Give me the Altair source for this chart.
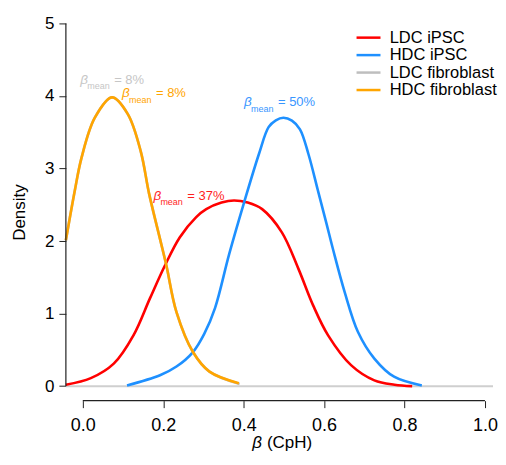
import altair as alt
import pandas as pd

# ---------------- data ----------------
series_names = ["LDC iPSC", "HDC iPSC", "LDC fibroblast", "HDC fibroblast"]
series_colors = ["#FF0000", "#1E90FF", "#BEBEBE", "#FFA500"]

ldc_ipsc_x = [-0.042, 0.020, 0.077, 0.126, 0.167, 0.204, 0.241, 0.282, 0.307,
              0.345, 0.376, 0.410, 0.446, 0.495, 0.536, 0.573, 0.610, 0.667,
              0.725, 0.775, 0.819]
ldc_ipsc_y = [0.02, 0.11, 0.31, 0.70, 1.21, 1.66, 2.05, 2.33, 2.44,
              2.53, 2.56, 2.53, 2.44, 2.12, 1.62, 1.11, 0.70, 0.29,
              0.08, 0.02, 0.00]

hdc_ipsc_x = [0.110, 0.192, 0.233, 0.274, 0.302, 0.329, 0.364, 0.401, 0.438,
              0.462, 0.480, 0.499, 0.520, 0.540, 0.561, 0.585, 0.606, 0.622,
              0.651, 0.684, 0.725, 0.774, 0.843]
hdc_ipsc_y = [0.01, 0.15, 0.27, 0.47, 0.72, 1.08, 1.82, 2.53, 3.20,
              3.57, 3.665, 3.70, 3.66, 3.54, 3.20, 2.69, 2.24, 1.89,
              1.30, 0.75, 0.38, 0.13, 0.01]

ldc_fib_x = [-0.042, -0.020, -0.003, 0.030, 0.073, 0.112, 0.144, 0.165, 0.192,
             0.208, 0.233, 0.274, 0.315, 0.390]
ldc_fib_y = [2.01, 2.69, 3.15, 3.70, 3.98, 3.75, 3.24, 2.65, 2.03,
             1.66, 1.02, 0.47, 0.20, 0.03]

hdc_fib_x = [-0.042, -0.020, -0.003, 0.030, 0.073, 0.112, 0.144, 0.165, 0.192,
             0.208, 0.233, 0.274, 0.315, 0.388]
hdc_fib_y = [2.01, 2.69, 3.15, 3.70, 3.98, 3.75, 3.24, 2.65, 2.03,
             1.66, 1.02, 0.47, 0.20, 0.04]

ann_series = ["LDC fibroblast", "HDC fibroblast", "HDC iPSC", "LDC iPSC"]
ann_x = [-0.0064, 0.0976, 0.401, 0.1756]
ann_y = [4.17, 3.98, 3.86, 2.57]
ann_value = ["= 8%", "= 8%", "= 50%", "= 37%"]
ann_color = ["#C6C6C6", "#FFA500", "#3896FF", "#FF1E1E"]

x_ticks = [0.0, 0.2, 0.4, 0.6, 0.8, 1.0]
y_ticks = [0, 1, 2, 3, 4, 5]
x_dom = [-0.042, 1.02]
y_dom = [-0.2, 5]

# ---------------- tables ----------------
rows = []
for name, xs_, ys_ in [("LDC iPSC", ldc_ipsc_x, ldc_ipsc_y),
                       ("HDC iPSC", hdc_ipsc_x, hdc_ipsc_y),
                       ("LDC fibroblast", ldc_fib_x, ldc_fib_y),
                       ("HDC fibroblast", hdc_fib_x, hdc_fib_y)]:
    for i, (a, b) in enumerate(zip(xs_, ys_)):
        rows.append({"series": name, "beta": a, "density": b, "idx": i})
df = pd.DataFrame(rows)

ann = pd.DataFrame({"series": ann_series, "ax": ann_x, "ay": ann_y,
                    "val": ann_value, "col": ann_color})

FONT = "Liberation Sans"
xs = alt.Scale(domain=x_dom, nice=False, zero=False)
ys = alt.Scale(domain=y_dom, nice=False, zero=False)

x_axis = alt.Axis(values=x_ticks, format=".1f", domain=False, grid=False,
                  tickSize=7, tickColor="#222222", labelFontSize=18,
                  labelPadding=9, title=None, labelColor="black")
y_axis = alt.Axis(values=y_ticks, domain=False, grid=False, tickSize=7,
                  tickColor="#222222", labelFontSize=17, labelPadding=5,
                  title="Density", titleFontSize=17, titlePadding=16,
                  titleFontWeight="normal", titleColor="black",
                  labelColor="black")

def X(field):
    return alt.X(field, type="quantitative", scale=xs, axis=x_axis)

def Y(field):
    return alt.Y(field, type="quantitative", scale=ys, axis=y_axis)

one = pd.DataFrame({"k": [0]})

zero_line = alt.Chart(one).mark_rule(color="#CFCFCF", strokeWidth=2).encode(
    x=alt.XDatum(x_dom[0], scale=xs, axis=x_axis),
    x2=alt.X2Datum(x_dom[1]),
    y=alt.YDatum(0, scale=ys, axis=y_axis),
)

lines = alt.Chart(df).mark_line(strokeWidth=2.6, interpolate="catmull-rom").encode(
    x=X("beta"),
    y=Y("density"),
    order="idx:Q",
    color=alt.Color(
        "series:N",
        scale=alt.Scale(domain=series_names, range=series_colors),
        sort=series_names,
        legend=alt.Legend(
            title=None, orient="none", legendX=295, legendY=6,
            symbolType="M-3,0L3,0", symbolSize=64, symbolStrokeWidth=2.5,
            labelFontSize=16.5, labelOffset=13, rowPadding=0.5, padding=0,
            labelColor="black", labelFont=FONT,
        ),
    ),
)

x_axis_line = alt.Chart(one).mark_rule(color="#222222", strokeWidth=1.2).encode(
    x=alt.XDatum(0, scale=xs, axis=x_axis),
    x2=alt.X2Datum(1),
    y=alt.YDatum(y_dom[0], scale=ys, axis=y_axis),
)
y_axis_line = alt.Chart(one).mark_rule(color="#222222", strokeWidth=1.2).encode(
    x=alt.XDatum(x_dom[0], scale=xs, axis=x_axis),
    y=alt.YDatum(0, scale=ys, axis=y_axis),
    y2=alt.Y2Datum(5),
)

x_title_beta = alt.Chart(one).mark_text(
    text="β", fontStyle="italic", fontSize=17, align="right",
    baseline="alphabetic", dx=-22, dy=47, color="black", font=FONT).encode(
    x=alt.XDatum(0.5, scale=xs, axis=x_axis),
    y=alt.YDatum(y_dom[0], scale=ys, axis=y_axis),
)
x_title_rest = alt.Chart(one).mark_text(
    text="(CpH)", fontSize=17, align="left", baseline="alphabetic",
    dx=-17, dy=47, color="black", font=FONT).encode(
    x=alt.XDatum(0.5, scale=xs, axis=x_axis),
    y=alt.YDatum(y_dom[0], scale=ys, axis=y_axis),
)

ann_base = alt.Chart(ann).encode(
    x=X("ax"), y=Y("ay"), color=alt.Color("col:N", scale=None))
ann_beta = ann_base.mark_text(text="β", fontStyle="italic", fontSize=13.5,
                              align="left", baseline="alphabetic", font=FONT)
ann_mean = ann_base.mark_text(text="mean", fontSize=9, align="left",
                              baseline="alphabetic", dx=7, dy=5.5, font=FONT)
ann_val = ann_base.mark_text(fontSize=13, align="left", baseline="alphabetic",
                             dx=34, font=FONT).encode(text="val:N")

chart = alt.layer(
    zero_line, lines, x_axis_line, y_axis_line, x_title_beta, x_title_rest,
    ann_beta, ann_mean, ann_val,
).properties(
    width=428, height=378,
    padding={"left": 2, "top": 6, "right": 0, "bottom": 0},
).configure(font=FONT).configure_view(stroke=None).configure_axis(
    labelFont=FONT, titleFont=FONT)

chart.save("out.html", embed_options={"renderer": "svg", "actions": False})
